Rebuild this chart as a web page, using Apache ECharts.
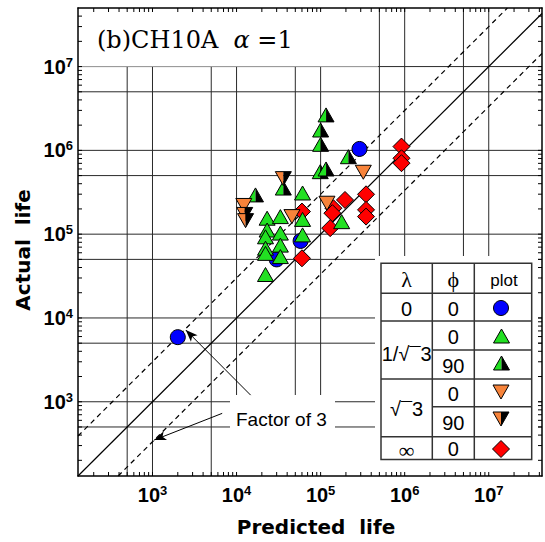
<!DOCTYPE html>
<html><head><meta charset="utf-8">
<script src="https://cdn.jsdelivr.net/npm/echarts@6/dist/echarts.min.js"></script>
<style>html,body{margin:0;padding:0;background:#fff}#c{width:545px;height:542px}</style>
</head><body><div id="c"></div>
<script>
// ---- axis ranges & ticks ----
const xMin = 130, xMax = 4.3e7, yMin = 130, yMax = 5e7;
const gridValues = [500, 1e3, 5e3, 1e4, 5e4, 1e5, 5e5, 1e6, 5e6, 1e7];
const decadeStarts = [100, 1e3, 1e4, 1e5, 1e6, 1e7];
const minorMultipliers = [2, 3, 4, 5, 6, 7, 8, 9, 10];

// ---- data: [predicted life, actual life] ----
const lam0_phi0 = [[2000, 5900], [30000, 50000], [57800, 83000], [290000, 1040000]];
const lamInvSqrt3_phi0 = [
  [23100, 155000], [33200, 162000], [23100, 112000], [22100, 93000], [33200, 103000],
  [22100, 68000], [22100, 59000], [33200, 74000], [33200, 54000], [22100, 33000],
  [61000, 310000], [61000, 150000], [61000, 98000], [178000, 141000]
];
const lamInvSqrt3_phi90 = [
  [116000, 2650000], [100000, 1750000], [100000, 1180000], [214000, 840000],
  [99000, 557000], [116000, 600000], [16800, 294000], [36000, 355000]
];
const lamSqrt3_phi0 = [[322000, 548000], [119000, 234000], [45600, 162000], [12200, 220000]];
const lamSqrt3_phi90 = [[36000, 460000], [12500, 172000], [12800, 145000]];
const lamInf_phi0 = [
  [916000, 1110000], [916000, 805000], [916000, 703000], [347000, 299000], [347000, 195000],
  [347000, 162000], [195000, 256000], [142000, 204000], [138000, 178000], [130000, 118000],
  [60000, 51500], [60000, 186000]
];
// reference lines (actual = predicted, x3, /3)
const lineEqual = [[130, 130], [4.3e7, 4.3e7]];
const lineUpper = [[130, 390], [1.667e7, 5e7]];
const lineLower = [[390, 130], [4.3e7, 1.433e7]];
// "Factor of 3" arrows: [start, end]
const arrowUpper = [[14700, 1200], [2490, 7180]];
const arrowLower = [[6750, 727], [1047, 349]];

const GREEN = '#22e022', ORANGE = '#f7833a', RED = '#ff0000', BLUE = '#0000ff';

function marker(kind, x, y) {
  const st = { stroke: '#000', lineWidth: 1 };
  const up = [[x - 8, y + 7], [x + 8, y + 7], [x, y - 7]];
  const dn = [[x - 8, y - 7], [x + 8, y - 7], [x, y + 7]];
  switch (kind) {
    case 'circle': return { type: 'circle', shape: { cx: x, cy: y, r: 7.5 }, style: Object.assign({ fill: BLUE }, st) };
    case 'up': return { type: 'polygon', shape: { points: up }, style: Object.assign({ fill: GREEN }, st) };
    case 'down': return { type: 'polygon', shape: { points: dn }, style: Object.assign({ fill: ORANGE }, st) };
    case 'diamond': return { type: 'polygon', shape: { points: [[x, y - 8.5], [x + 8.5, y], [x, y + 8.5], [x - 8.5, y]] }, style: Object.assign({ fill: RED }, st) };
    case 'upHalf': return { type: 'group', children: [
      { type: 'polygon', shape: { points: [[x - 8, y + 7], [x, y + 7], [x, y - 7]] }, style: { fill: GREEN } },
      { type: 'polygon', shape: { points: [[x, y + 7], [x + 8, y + 7], [x, y - 7]] }, style: { fill: '#000' } },
      { type: 'polygon', shape: { points: up }, style: Object.assign({ fill: 'none' }, st) }] };
    case 'downHalf': return { type: 'group', children: [
      { type: 'polygon', shape: { points: [[x - 8, y - 7], [x, y - 7], [x, y + 7]] }, style: { fill: ORANGE } },
      { type: 'polygon', shape: { points: [[x, y - 7], [x + 8, y - 7], [x, y + 7]] }, style: { fill: '#000' } },
      { type: 'polygon', shape: { points: dn }, style: Object.assign({ fill: 'none' }, st) }] };
  }
}
function pointSeries(name, data, kind) {
  return {
    type: 'custom', name, data, z: 4, clip: false,
    renderItem: (p, api) => { const c = api.coord([api.value(0), api.value(1)]); return marker(kind, c[0], c[1]); }
  };
}
// minor tick values
const tickVals = [];
decadeStarts.forEach(d => minorMultipliers.forEach(m => tickVals.push(d * m)));
const xTickVals = tickVals.filter(v => v > xMin && v < xMax);
const yTickVals = tickVals.filter(v => v > yMin && v < yMax);

const tickSeriesX = {
  type: 'custom', z: 5, clip: false, silent: true,
  data: xTickVals.map(v => [v, 1000]),
  renderItem: (p, api) => {
    const b = api.coord([api.value(0), yMin]), t = api.coord([api.value(0), yMax]);
    const s = { stroke: '#000', lineWidth: 1 };
    return { type: 'group', children: [
      { type: 'line', shape: { x1: b[0], y1: b[1], x2: b[0], y2: b[1] - 4 }, style: s },
      { type: 'line', shape: { x1: t[0], y1: t[1], x2: t[0], y2: t[1] + 4 }, style: s }] };
  }
};
const tickSeriesY = {
  type: 'custom', z: 5, clip: false, silent: true,
  data: yTickVals.map(v => [1000, v]),
  renderItem: (p, api) => {
    const l = api.coord([xMin, api.value(1)]), r = api.coord([xMax, api.value(1)]);
    const s = { stroke: '#000', lineWidth: 1 };
    return { type: 'group', children: [
      { type: 'line', shape: { x1: l[0], y1: l[1], x2: l[0] + 4, y2: l[1] }, style: s },
      { type: 'line', shape: { x1: r[0], y1: r[1], x2: r[0] - 4, y2: r[1] }, style: s }] };
  }
};
// grid lines at 1x and 5x each decade (both directions)
const gridSeries = {
  type: 'custom', z: 1, clip: false, silent: true,
  data: gridValues.map(v => [v, v]),
  renderItem: (p, api) => {
    const v = api.value(0);
    const vb = api.coord([v, yMin]), vt = api.coord([v, yMax]);
    const hl = api.coord([xMin, v]), hr = api.coord([xMax, v]);
    const s = { stroke: '#2a2a2a', lineWidth: 1 };
    return { type: 'group', children: [
      { type: 'line', shape: { x1: vb[0], y1: vb[1], x2: vt[0], y2: vt[1] }, style: s },
      { type: 'line', shape: { x1: hl[0], y1: hl[1], x2: hr[0], y2: hr[1] }, style: s }] };
  }
};

const powLabel = v => {
  const e = Math.log10(v), n = Math.round(e);
  if (Math.abs(e - n) > 1e-6 || n < 3 || n > 7) return '';
  return '{b|10}{s|' + n + '}';
};
const labelRich = {
  b: { fontFamily: 'Liberation Sans', fontWeight: 'bold', fontSize: 20, color: '#000', lineHeight: 22 },
  s: { fontFamily: 'Liberation Sans', fontWeight: 'bold', fontSize: 13, color: '#000', lineHeight: 14, verticalAlign: 'top' }
};
const axisCommon = { type: 'log', logBase: 10, splitLine: { show: false }, axisTick: { show: false }, z: 6,
  axisLine: { show: true, lineStyle: { color: '#000', width: 1.5 } } };
const nameStyle = { fontFamily: 'DejaVu Sans', fontWeight: 'bold', fontSize: 20, color: '#000' };

// white background boxes (title, annotation, legend)
const whiteBoxes = [
  { type: 'rect', shape: { x: 79, y: 9, width: 299, height: 57.5 }, style: { fill: '#fff' } },
  { type: 'rect', shape: { x: 230, y: 395, width: 105, height: 80 }, style: { fill: '#fff' } },
  { type: 'rect', shape: { x: 375, y: 256, width: 163, height: 219 }, style: { fill: '#fff' } }
];

// legend table geometry
const L = { x0: 381, x1: 432.3, x2: 474.3, x3: 531.7, y0: 263.3, y1: 293.3, y2: 321, y3: 350, y4: 379, y5: 406.7, y6: 436.7, y7: 459.5 };
const c1 = (L.x0 + L.x1) / 2, c2 = (L.x1 + L.x2) / 2, c3 = (L.x2 + L.x3) / 2 + 1;
const lineEl = (x1, y1, x2, y2) => ({ type: 'line', shape: { x1, y1, x2, y2 }, style: { stroke: '#333', lineWidth: 1.5 } });
const txt = (t, x, y, font) => ({ type: 'text', style: { text: t, x, y, font, fill: '#000', align: 'center', verticalAlign: 'middle' } });
const sans = '20px "Liberation Sans"';
const overlayEls = [
  { type: 'text', style: { x: 97, y: 40, verticalAlign: 'middle',
    text: '{n|(b)CH10A  }{a|α}{n| =1}',
    rich: { n: { font: '24px "DejaVu Serif"', fill: '#000' }, a: { font: 'italic 24px "DejaVu Serif"', fill: '#000' } } } },
  { type: 'text', style: { x: 236, y: 419, text: 'Factor of 3', font: '19px "Liberation Sans"', fill: '#000', verticalAlign: 'middle' } },
  { type: 'rect', shape: { x: L.x0, y: L.y0, width: L.x3 - L.x0, height: L.y7 - L.y0 }, style: { fill: 'none', stroke: '#333', lineWidth: 1.5 } },
  lineEl(L.x1, L.y0, L.x1, L.y7), lineEl(L.x2, L.y0, L.x2, L.y7),
  lineEl(L.x0, L.y1, L.x3, L.y1), lineEl(L.x0, L.y2, L.x3, L.y2), lineEl(L.x1, L.y3, L.x3, L.y3),
  lineEl(L.x0, L.y4, L.x3, L.y4), lineEl(L.x1, L.y5, L.x3, L.y5), lineEl(L.x0, L.y6, L.x3, L.y6),
  txt('λ', c1, 279, '22px "Liberation Serif"'), txt('ϕ', c2, 279, '22px "Liberation Serif"'), txt('plot', c3, 280, '17px "Liberation Sans"'),
  txt('0', c1, 309, sans), txt('0', c2, 309, sans),
  txt('1/√¯3', c1, 354, sans), txt('0', c2, 337, sans), txt('90', c2, 366, sans),
  txt('√¯3', c1, 409, sans), txt('0', c2, 394, sans), txt('90', c2, 423, sans),
  txt('∞', c1, 450, '22px "Liberation Serif"'), txt('0', c2, 449, sans),
  marker('circle', 501, 308), marker('up', 501.5, 336), marker('upHalf', 501.5, 363),
  marker('down', 501, 392), marker('downHalf', 501, 419), marker('diamond', 501, 449)
];

const chart = echarts.init(document.getElementById('c'), null, { renderer: 'svg' });
chart.setOption({
  animation: false,
  backgroundColor: '#fff',
  grid: { left: 78, right: 1, top: 8, bottom: 66, containLabel: false },
  xAxis: [
    Object.assign({}, axisCommon, { position: 'bottom', min: xMin, max: xMax,
      name: 'Predicted  life', nameLocation: 'middle', nameGap: 41,
      nameTextStyle: Object.assign({ padding: [0, 0, 0, 12] }, nameStyle),
      axisLabel: { show: true, formatter: powLabel, rich: labelRich, margin: 8, showMinLabel: true, showMaxLabel: true } }),
    Object.assign({}, axisCommon, { position: 'top', min: xMin, max: xMax, axisLabel: { show: false } })
  ],
  yAxis: [
    Object.assign({}, axisCommon, { position: 'left', min: yMin, max: yMax,
      name: 'Actual  life', nameLocation: 'middle', nameGap: 43, nameRotate: 90,
      nameTextStyle: Object.assign({ padding: [0, 16, 0, 0] }, nameStyle),
      axisLabel: { show: true, formatter: powLabel, rich: labelRich, margin: 5 } }),
    Object.assign({}, axisCommon, { position: 'right', min: yMin, max: yMax, axisLabel: { show: false } })
  ],
  series: [
    gridSeries,
    { type: 'custom', z: 2, silent: true, clip: false, data: [[1000, 1000]],
      renderItem: () => ({ type: 'group', children: whiteBoxes }) },
    { type: 'line', z: 3, silent: true, data: lineEqual, showSymbol: false, lineStyle: { color: '#000', width: 1.2 } },
    { type: 'line', z: 3, silent: true, data: lineUpper, showSymbol: false, lineStyle: { color: '#000', width: 1.2, type: [5, 4] } },
    { type: 'line', z: 3, silent: true, data: lineLower, showSymbol: false, lineStyle: { color: '#000', width: 1.2, type: [5, 4] },
      markLine: { silent: true, symbol: ['none', 'arrow'], symbolSize: [7, 12], label: { show: false }, animation: false,
        lineStyle: { color: '#000', width: 1, type: 'solid' },
        data: [[{ coord: arrowUpper[0] }, { coord: arrowUpper[1] }], [{ coord: arrowLower[0] }, { coord: arrowLower[1] }]] } },
    tickSeriesX, tickSeriesY,
    pointSeries('λ=∞, ϕ=0', lamInf_phi0, 'diamond'),
    pointSeries('λ=0, ϕ=0', lam0_phi0, 'circle'),
    pointSeries('λ=1/√3, ϕ=0', lamInvSqrt3_phi0, 'up'),
    pointSeries('λ=1/√3, ϕ=90', lamInvSqrt3_phi90, 'upHalf'),
    pointSeries('λ=√3, ϕ=0', lamSqrt3_phi0, 'down'),
    pointSeries('λ=√3, ϕ=90', lamSqrt3_phi90, 'downHalf'),
    { type: 'custom', z: 8, silent: true, clip: false, data: [[1000, 1000]],
      renderItem: () => ({ type: 'group', children: overlayEls }) }
  ]
});
</script></body></html>
